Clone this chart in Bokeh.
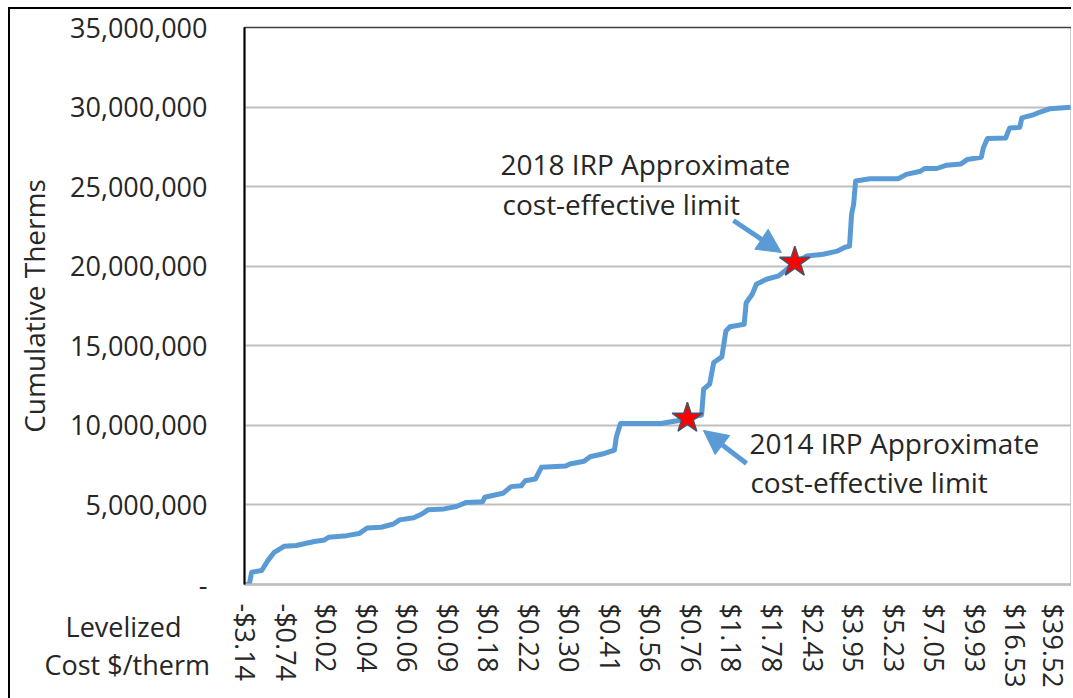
from bokeh.plotting import figure
from bokeh.models import (FixedTicker, NumeralTickFormatter, Label, Arrow, NormalHead, Range1d, Title)
from bokeh.embed import file_html
from bokeh.resources import INLINE

# ---- data ----
measure_index = [0, 2, 3, 8, 11, 14, 19, 25, 34, 39, 41, 50, 56, 60, 67, 73, 76, 83, 87, 90,
                 98, 104, 109, 117, 118, 127, 131, 136, 138, 143, 146, 158, 160, 167, 170, 176,
                 182, 183, 185, 205, 213, 218, 223, 225, 226, 229, 231, 235, 237, 239, 246, 247,
                 250, 252, 257, 263, 267, 271, 277, 285, 292, 296, 298, 299, 300, 301, 308, 322,
                 326, 333, 335, 341, 346, 353, 356, 363, 364, 366, 375, 377, 382, 383, 389, 392,
                 397, 407]
cumulative_therms = [0, 100_000, 770_000, 880_000, 1_500_000, 2_000_000, 2_400_000, 2_450_000,
                     2_700_000, 2_800_000, 2_970_000, 3_070_000, 3_200_000, 3_550_000, 3_600_000,
                     3_800_000, 4_060_000, 4_200_000, 4_430_000, 4_690_000, 4_750_000, 4_900_000,
                     5_160_000, 5_200_000, 5_480_000, 5_730_000, 6_150_000, 6_200_000, 6_520_000,
                     6_630_000, 7_360_000, 7_440_000, 7_570_000, 7_740_000, 8_030_000, 8_200_000,
                     8_450_000, 9_300_000, 10_120_000, 10_120_000, 10_290_000, 10_420_000,
                     10_600_000, 10_650_000, 12_280_000, 12_600_000, 13_950_000, 14_300_000,
                     15_930_000, 16_200_000, 16_350_000, 17_700_000, 18_240_000, 18_860_000,
                     19_180_000, 19_390_000, 19_800_000, 20_200_000, 20_640_000, 20_750_000,
                     20_950_000, 21_200_000, 21_270_000, 23_260_000, 23_880_000, 25_350_000,
                     25_500_000, 25_500_000, 25_770_000, 25_970_000, 26_140_000, 26_140_000,
                     26_350_000, 26_430_000, 26_700_000, 26_850_000, 27_430_000, 28_020_000,
                     28_060_000, 28_690_000, 28_730_000, 29_320_000, 29_530_000, 29_690_000,
                     29_900_000, 29_990_000]
tick_index = list(range(0, 401, 20))
tick_labels = ["-$3.14", "-$0.74", "$0.02", "$0.04", "$0.06", "$0.09", "$0.18", "$0.22",
               "$0.30", "$0.41", "$0.56", "$0.76", "$1.18", "$1.78", "$2.43", "$3.95",
               "$5.23", "$7.05", "$9.93", "$16.53", "$39.52"]
y_ticks = [0, 5_000_000, 10_000_000, 15_000_000, 20_000_000, 25_000_000, 30_000_000, 35_000_000]
star_index = [218, 271]
star_therms = [10_450_000, 20_250_000]
annotation_lines = ["2018 IRP Approximate", "cost-effective limit",
                    "2014 IRP Approximate", "cost-effective limit"]
x_title_lines = ["\u00a0\u00a0\u00a0Levelized", "Cost $/therm"]

BLUE = "#5b9bd5"
TXT = "#262626"
FONT = "Open Sans"

p = figure(width=1063, height=895, output_backend="svg", toolbar_location=None,
           x_range=Range1d(-0.5, 407.5), y_range=Range1d(0, 35_000_000),
           min_border_left=234, min_border_right=2, min_border_top=18, min_border_bottom=320,
           styles={"border-left": "2px solid #000", "border-top": "2px solid #000",
                   "margin-left": "8px", "margin-top": "7px"})

p.outline_line_color = "#404040"
p.outline_line_width = 1.5
p.background_fill_color = "white"
p.border_fill_color = "white"

p.xgrid.grid_line_color = None
p.ygrid.grid_line_color = "#bfbfbf"
p.ygrid.grid_line_width = 2

# y axis
p.yaxis.ticker = FixedTicker(ticks=y_ticks)
p.yaxis.formatter = NumeralTickFormatter(format="0,0")
p.yaxis.major_label_overrides = {0: "-"}
p.yaxis.axis_line_color = "black"
p.yaxis.axis_line_width = 2
p.yaxis.major_tick_line_color = None
p.yaxis.minor_tick_line_color = None
p.yaxis.major_tick_out = 0
p.yaxis.minor_tick_out = 0
p.yaxis.major_label_standoff = 37
p.yaxis.major_label_text_font = FONT
p.yaxis.major_label_text_font_size = "27px"
p.yaxis.major_label_text_color = TXT
p.yaxis.axis_label = "Cumulative Therms"
p.yaxis.axis_label_text_font = FONT
p.yaxis.axis_label_text_font_size = "28px"
p.yaxis.axis_label_text_font_style = "normal"
p.yaxis.axis_label_text_color = TXT
p.yaxis.axis_label_standoff = 14

# x axis
p.xaxis.ticker = FixedTicker(ticks=tick_index)
p.xaxis.major_label_overrides = {i: s for i, s in zip(tick_index, tick_labels)}
p.xaxis.major_label_orientation = "vertical"
p.xaxis.axis_line_color = "#bfbfbf"
p.xaxis.axis_line_width = 2
p.xaxis.major_tick_line_color = None
p.xaxis.minor_tick_line_color = None
p.xaxis.major_tick_out = 0
p.xaxis.minor_tick_out = 0
p.xaxis.major_label_standoff = 19
p.xaxis.major_label_text_font = FONT
p.xaxis.major_label_text_font_size = "27px"
p.xaxis.major_label_text_color = TXT

# curve
p.line(measure_index, cumulative_therms, line_width=5, color=BLUE, line_join="round")

# arrows
for xs, ys, xe, ye in [(240.7, 22_870_000, 264.4, 20_860_000),
                       (247.2, 7_600_000, 225.9, 9_680_000)]:
    p.add_layout(Arrow(end=NormalHead(size=24, fill_color=BLUE, line_color=BLUE, line_width=1),
                       x_start=xs, y_start=ys, x_end=xe, y_end=ye,
                       line_color=BLUE, line_width=5))

# stars
p.scatter(star_index, star_therms, marker="star", size=32, fill_color="#ff0000",
          line_color="#44546a", line_width=1.5)

# annotation texts
for (tx, ty), t in zip([(125.8, 26_450_000), (126.8, 23_940_000),
                        (248.6, 8_920_000), (249.1, 6_410_000)], annotation_lines):
    p.add_layout(Label(x=tx, y=ty, text=t, text_font=FONT, text_font_size="28px",
                       text_color=TXT, text_baseline="middle", text_align="left"))

# x axis title at the bottom-left, below the axis panel, pulled up with a negative standoff
x_title = Title(text="\n".join(x_title_lines + ["\u00a0"] * 5), align="left", offset=-200,
                vertical_align="top", standoff=-166, text_font=FONT, text_font_size="27px",
                text_font_style="normal", text_color=TXT, text_line_height=1.04)
p.add_layout(x_title, "below")

open("out.html", "w").write(file_html(p, INLINE))
